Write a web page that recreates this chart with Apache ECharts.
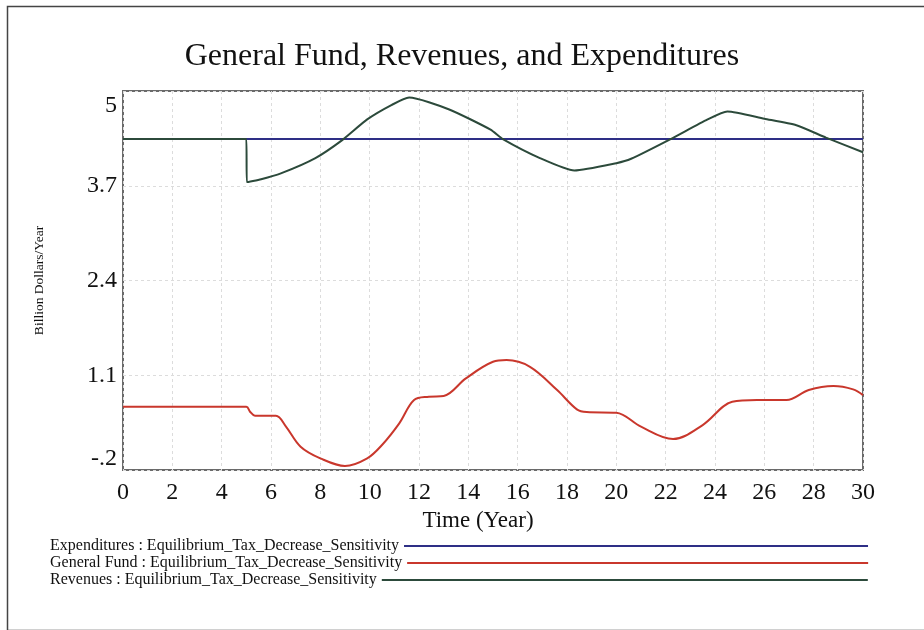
<!DOCTYPE html>
<html>
<head>
<meta charset="utf-8">
<script src="https://cdn.jsdelivr.net/npm/echarts@6/dist/echarts.min.js"></script>
<style>
html,body{margin:0;padding:0;background:#fff;}
#chart{width:924px;height:630px;}
</style>
</head>
<body>
<div id="chart"></div>
<script>
// ---- data ----
const seriesNames = [
  'Expenditures : Equilibrium_Tax_Decrease_Sensitivity',
  'General Fund : Equilibrium_Tax_Decrease_Sensitivity',
  'Revenues : Equilibrium_Tax_Decrease_Sensitivity'
];
const expT = [0, 30];
const expV = [4.34, 4.34];

const gfT = [0, 5, 5.15, 5.35, 6.2, 6.6, 7.2, 8.0, 9.0, 9.9, 10.5, 11.2, 11.8, 12.4, 13.0, 13.9, 15.0, 15.55, 16.5, 17.6, 18.4, 18.8, 20.0, 21.0, 22.3, 23.5, 24.7, 25.7, 26.9, 27.8, 28.8, 29.6, 30];
const gfV = [0.668, 0.668, 0.6, 0.545, 0.545, 0.40, 0.12, -0.04, -0.145, -0.04, 0.143, 0.44, 0.76, 0.805, 0.815, 1.057, 1.285, 1.308, 1.216, 0.897, 0.632, 0.595, 0.586, 0.394, 0.225, 0.417, 0.736, 0.76, 0.76, 0.897, 0.952, 0.906, 0.828];

const revT = [0, 5, 5.02, 5.6, 6.4, 7.8, 8.9, 9.9, 10.9, 11.6, 13.2, 14.9, 15.4, 16.9, 18.3, 20.0, 20.6, 22.2, 23.7, 24.5, 26.0, 27.3, 28.5, 30];
const revV = [4.34, 4.34, 3.75, 3.79, 3.87, 4.08, 4.33, 4.61, 4.81, 4.91, 4.75, 4.47, 4.34, 4.08, 3.91, 4.01, 4.07, 4.34, 4.61, 4.72, 4.62, 4.53, 4.36, 4.16];

const yTickLabels = ['-.2', '1.1', '2.4', '3.7', '5'];
const yMin = -0.2, yMax = 5;
const xMin = 0, xMax = 30, xStep = 2;

const colors = ['#2e2f86', '#c9372c', '#2c4a3b'];
const legendLineWidths = [464, 461, 486];
const legendTops = [538, 555, 572];

// ---- chart ----
const FONT = "'Liberation Serif', 'Times New Roman', serif";
const pairs = (t, v) => t.map((x, i) => [x, v[i]]);

const chart = echarts.init(document.getElementById('chart'), null, {renderer: 'canvas'});

const legends = seriesNames.map((n, i) => ({
  data: [n],
  left: 50,
  top: legendTops[i],
  orient: 'horizontal',
  align: 'right',
  padding: 0,
  icon: 'rect',
  itemWidth: legendLineWidths[i],
  itemHeight: 2,
  selectedMode: false,
  textStyle: {fontFamily: FONT, fontSize: 16, color: '#111'}
}));

chart.setOption({
  animation: false,
  backgroundColor: '#fff',
  color: colors,
  title: {
    text: 'General Fund, Revenues, and Expenditures',
    left: 'center',
    top: 36,
    textStyle: {fontFamily: FONT, fontSize: 32, fontWeight: 'normal', color: '#111'}
  },
  graphic: [{
    type: 'rect', left: 5, top: 4, silent: true, z: -1,
    shape: {width: 940, height: 624},
    style: {fill: 'none', stroke: '#444', lineWidth: 1.5}
  }],
  legend: legends,
  grid: {
    left: 123, right: 61, top: 91, bottom: 160,
    show: true, borderColor: '#6a6a6a', borderWidth: 2, backgroundColor: '#fff'
  },
  xAxis: {
    type: 'value', min: xMin, max: xMax, interval: xStep,
    name: 'Time (Year)', nameLocation: 'middle', nameGap: 37,
    nameTextStyle: {fontFamily: FONT, fontSize: 23, color: '#111', padding: [0, 30, 0, 0]},
    axisLine: {show: false}, axisTick: {show: false},
    axisLabel: {fontFamily: FONT, fontSize: 24, color: '#111', margin: 11},
    splitLine: {show: true, lineStyle: {color: '#dcdcdc', type: [3, 3], width: 1}}
  },
  yAxis: [{
    type: 'value', min: yMin, max: yMax, show: false,
    splitLine: {show: false}
  }, {
    type: 'value', min: 0, max: yTickLabels.length - 1, interval: 1,
    position: 'left',
    name: 'Billion Dollars/Year', nameLocation: 'middle', nameGap: 77, nameRotate: 90,
    nameTextStyle: {fontFamily: FONT, fontSize: 13.5, color: '#111'},
    axisLine: {show: false}, axisTick: {show: false},
    axisLabel: {
      fontFamily: FONT, fontSize: 24, color: '#111', margin: 6,
      formatter: function (v) {
        const s = yTickLabels[Math.round(v)];
        if (v === yTickLabels.length - 1) return '{top|' + s + '}';
        if (v === 0) return '{bot|' + s + '}';
        return s;
      },
      rich: {
        top: {fontFamily: FONT, fontSize: 24, color: '#111', padding: [30, 0, 0, 0]},
        bot: {fontFamily: FONT, fontSize: 24, color: '#111', padding: [0, 0, 22, 0]}
      }
    },
    splitLine: {show: true, lineStyle: {color: '#dcdcdc', type: [3, 3], width: 1}}
  }],
  series: [{
    name: seriesNames[0], type: 'line', yAxisIndex: 0, showSymbol: false, symbol: 'none',
    data: pairs(expT, expV), lineStyle: {width: 2, color: colors[0]}, itemStyle: {color: colors[0]}
  }, {
    name: seriesNames[1], type: 'line', yAxisIndex: 0, showSymbol: false, symbol: 'none',
    smooth: 0.35,
    data: pairs(gfT, gfV), lineStyle: {width: 2, color: colors[1]}, itemStyle: {color: colors[1]}
  }, {
    name: seriesNames[2], type: 'line', yAxisIndex: 0, showSymbol: false, symbol: 'none',
    smooth: 0.2,
    data: pairs(revT, revV), lineStyle: {width: 2, color: colors[2]}, itemStyle: {color: colors[2]}
  }]
});
</script>
</body>
</html>
